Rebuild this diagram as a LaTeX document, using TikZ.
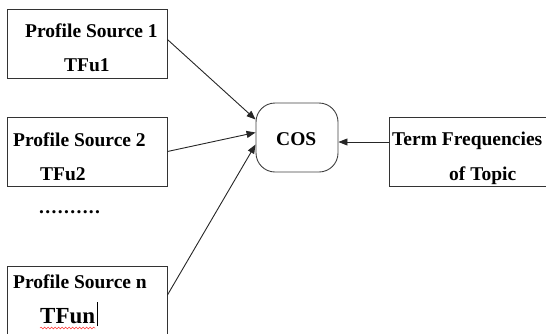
\documentclass[tikz,border=0pt]{standalone}
\usepackage{fontspec}
\setmainfont{Liberation Serif}
\usetikzlibrary{arrows.meta,calc,decorations.pathmorphing}

\tikzset{
  box/.style={draw=black!80, line width=0.9pt, rectangle, inner sep=0pt},
  lbl/.style={anchor=base west, inner sep=0pt, font=\fontsize{19.5}{22}\selectfont\bfseries},
  biglbl/.style={anchor=base west, inner sep=0pt, font=\fontsize{23}{26}\selectfont\bfseries},
  link/.style={draw=black!85, line width=0.9pt, -{Triangle[length=9pt,width=7pt]}},
}
\newcommand\spacedot{.\hspace{1.35pt}}

\begin{document}
\begin{tikzpicture}[x=1pt,y=-1pt]
  \useasboundingbox (0,0) rectangle (546,333);

  % source boxes
  \node[box, minimum width=160pt, minimum height=69pt] (p1) at (87,43.5) {};
  \node[box, minimum width=160pt, minimum height=69pt] (p2) at (87,151.5) {};
  \node[box, minimum width=160pt, minimum height=70pt] (p3) at (87,301) {};

  % topic box, running past the right edge
  \node[box, minimum width=162pt, minimum height=69pt] (term) at (470,151.5) {};

  % cosine node with rounded sides
  \node[draw=black!75, line width=0.9pt, rounded corners=19pt,
        minimum width=82pt, minimum height=69pt, inner sep=0pt] (cos) at (297,137.5) {};

  % labels
  \node[lbl] (t1a) at (25,37) {Profile Source 1};
  \node[lbl] (t1b) at (64,71) {TFu1};
  \node[lbl] (t2a) at (13,146) {Profile Source 2};
  \node[lbl] (t2b) at (40,180) {TFu2};
  \node[lbl] (dots) at (39,213) {\spacedot\spacedot\spacedot\spacedot\spacedot\spacedot\spacedot\spacedot\spacedot.};
  \node[lbl] (t3a) at (13,288) {Profile Source n};
  \node[biglbl] (t3b) at (40,323) {TFun};
  \node[lbl] (tc) at (276,145) {COS};
  \node[lbl] (tta) at (392,145) {Term Frequencies};
  \node[lbl] (ttb) at (449,180) {of Topic};

  % spell-check underline and text cursor
  \draw[red!80, line width=0.5pt, decorate,
        decoration={snake, segment length=3.5pt, amplitude=0.9pt}]
    ($(t3b.base west)+(0,5)$) -- ($(t3b.base east)+(0,5)$);
  \draw[black, line width=1.6pt] ($(t3b.base east)+(2,3)$) -- ($(t3b.base east)+(2,-21)$);

  % connectors
  \draw[link] ($(p1.east)+(0,-4)$) -- ($(cos.west)+(0,-18)$);
  \draw[link] (p2.east) -- ($(cos.west)+(0,-5)$);
  \draw[link] ($(p3.east)+(0,-6)$) -- ($(cos.west)+(0,7)$);
  \draw[link] ($(term.west)+(0,-9.5)$) -- ($(cos.east)+(0,4.5)$);
\end{tikzpicture}
\end{document}
